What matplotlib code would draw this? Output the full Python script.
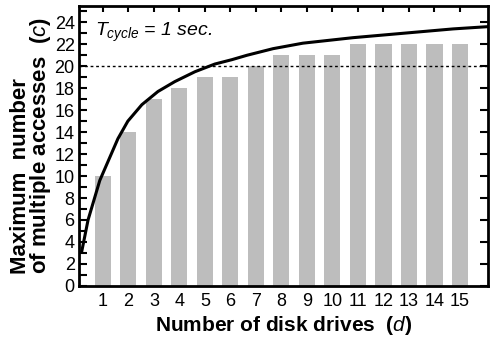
import numpy as np
import matplotlib
matplotlib.use("Agg")
import matplotlib.pyplot as plt

plt.rcParams['font.family'] = ['Liberation Sans', 'DejaVu Sans']
plt.rcParams['mathtext.fontset'] = 'custom'
plt.rcParams['mathtext.it'] = 'Liberation Sans:italic'
plt.rcParams['mathtext.rm'] = 'Liberation Sans'

# bar data: max number of multiple accesses per number of disk drives
drives = [1, 2, 3, 4, 5, 6, 7, 8, 9, 10, 11, 12, 13, 14, 15]
accesses = [10, 14, 17, 18, 19, 19, 20, 21, 21, 21, 22, 22, 22, 22, 22]

# curve
curve_d = [0.17, 0.42, 0.88, 1.59, 1.98, 2.53, 3.16, 3.82, 4.61, 5.39,
           6.06, 6.65, 7.67, 8.84, 10.8, 12.76, 14.73, 16.06]
curve_c = [3.1, 6.0, 9.6, 13.4, 15.0, 16.5, 17.7, 18.6, 19.5, 20.2,
           20.6, 21.0, 21.6, 22.1, 22.6, 23.0, 23.4, 23.6]

limit = 20

fig = plt.figure(figsize=(4.96, 3.44), dpi=100)
ax = fig.add_axes([0.159, 0.169, 0.825, 0.814])

ax.bar(drives, accesses, width=0.63, color='#bdbdbd', edgecolor='none', zorder=1)
ax.axhline(limit, color='k', lw=1, ls=(0, (2, 2)), zorder=2)
ax.plot(curve_d, curve_c, color='k', lw=2.2, zorder=3)

ax.set_xlim(0.06, 16.1)
ax.set_ylim(0, 25.5)

ax.set_xticks(drives)
ax.set_xticklabels([str(d) for d in drives], fontsize=13)
ax.tick_params(axis='x', which='both', bottom=False, top=True, direction='in',
               length=4, width=1.5, pad=5)
ax.set_yticks(np.arange(0, 25, 2))
ax.set_yticks(np.arange(0, 26, 1), minor=True)
ax.tick_params(axis='y', which='both', left=True, right=False, direction='in',
               length=6, width=1.5, labelsize=13, pad=3)
ax.tick_params(axis='y', which='minor', labelleft=False)

# right-side ticks every 2
ax2 = ax.twinx()
ax2.set_ylim(ax.get_ylim())
ax2.set_yticks(np.arange(0, 25, 2))
ax2.tick_params(axis='y', direction='in', length=6, width=1.5, labelright=False)
for sp in ax2.spines.values():
    sp.set_visible(False)

for sp in ax.spines.values():
    sp.set_linewidth(2)

ax.text(0.04, 0.905, r'$T_{cycle}$ = 1 sec.', transform=ax.transAxes,
        fontsize=14, style='italic', va='center', ha='left')

ax.set_xlabel(r'Number of disk drives  ($d$)', fontsize=15, fontweight='bold', labelpad=3)
ax.set_ylabel('Maximum  number\nof multiple accesses  ($c$)', fontsize=16,
              fontweight='bold', multialignment='left', linespacing=0.85, labelpad=1)

fig.savefig('out.png', dpi=100)
